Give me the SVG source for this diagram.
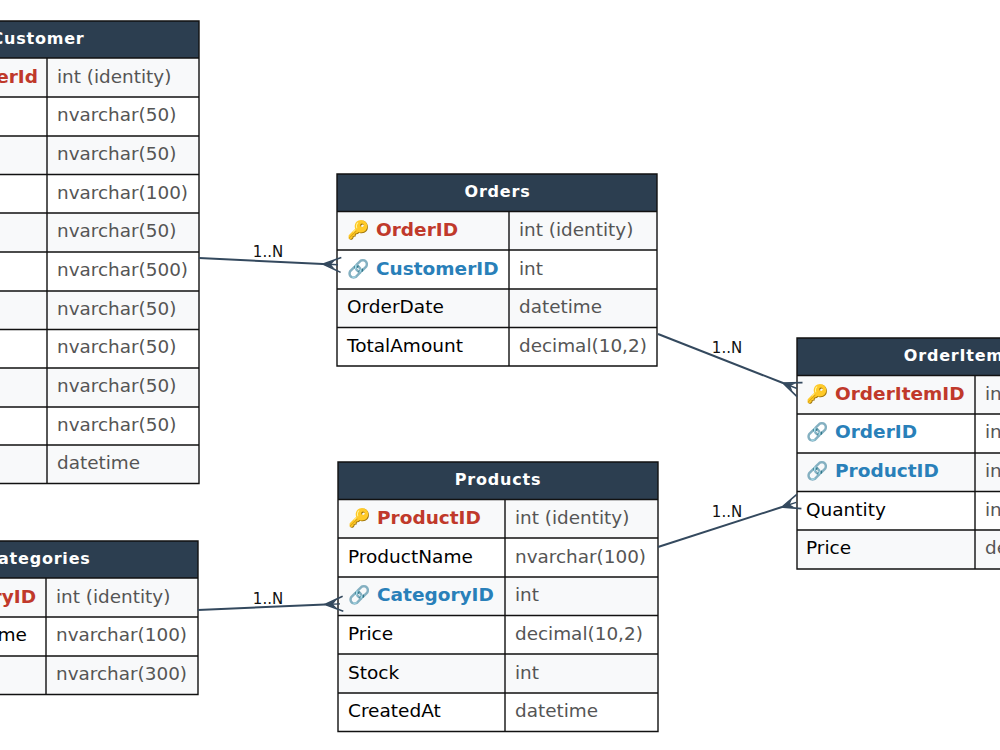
<svg xmlns="http://www.w3.org/2000/svg" width="1000" height="750" viewBox="0 0 1000 750">
<defs>
<marker id="crow" markerUnits="userSpaceOnUse" markerWidth="20" markerHeight="20" refX="0" refY="10" orient="auto" overflow="visible">
<path d="M18 2.500L0 10L18 17.500" fill="none" stroke="#34495e" stroke-width="1.600"/>
<path d="M0 10L12 5.500L8 10L12 14.500Z" fill="#34495e"/>
<path d="M0 10H15" stroke="#34495e" stroke-width="1.400"/>
</marker>
</defs>
<style>
text{font-family:"DejaVu Sans",sans-serif}
.h{fill:#2c3e50}
.t{fill:#fff;font-size:16px;font-weight:700;text-anchor:middle;letter-spacing:.8px}
.a{fill:#f8f9fa}
.b{fill:#fff}
.g{stroke:#111;stroke-width:1.4;fill:none}
.n{fill:#000;font-size:18.500px}
.k{fill:#c0392b;font-size:18.500px;font-weight:700}
.f{fill:#2980b9;font-size:18.500px;font-weight:700}
.y{fill:#555;font-size:18.400px}
.e{font-size:18px;font-family:"Noto Color Emoji","DejaVu Sans",sans-serif}
.l{fill:#111;font-size:15px;text-anchor:middle}
.c{stroke:#34495e;stroke-width:2;fill:none}
</style>
<rect width="1000" height="750" fill="#fff"/>
<g id="customer">
<rect class="h" x="-60" y="21" width="259" height="37.500"/>
<text class="t" x="38" y="44">Customer</text>
<rect class="a" x="-60" y="58" width="259" height="39"/><rect class="a" x="-60" y="136" width="259" height="38.500"/><rect class="a" x="-60" y="213" width="259" height="39"/><rect class="a" x="-60" y="291" width="259" height="38.500"/><rect class="a" x="-60" y="368" width="259" height="39"/><rect class="a" x="-60" y="445" width="259" height="38.500"/>
<path class="g" d="M-60 21H199V483.500H-60M-60 58H199M-60 97H199M-60 136H199M-60 174.500H199M-60 213H199M-60 252H199M-60 291H199M-60 329.500H199M-60 368H199M-60 407H199M-60 445H199M47 58V483.500"/>
<text class="k" x="38" y="83" text-anchor="end">CustomerId</text>
<text class="y" x="57" y="83">int (identity)</text><text class="y" x="57" y="121">nvarchar(50)</text><text class="y" x="57" y="160">nvarchar(50)</text><text class="y" x="57" y="199">nvarchar(100)</text><text class="y" x="57" y="237">nvarchar(50)</text><text class="y" x="57" y="276">nvarchar(500)</text><text class="y" x="57" y="315">nvarchar(50)</text><text class="y" x="57" y="353">nvarchar(50)</text><text class="y" x="57" y="392">nvarchar(50)</text><text class="y" x="57" y="431">nvarchar(50)</text><text class="y" x="57" y="469">datetime</text>
</g>
<g id="categories">
<rect class="h" x="-60" y="541" width="258" height="37.500"/>
<text class="t" x="38" y="564">Categories</text>
<rect class="a" x="-60" y="578" width="258" height="39"/><rect class="a" x="-60" y="656" width="258" height="38.500"/>
<path class="g" d="M-60 541H198V694.500H-60M-60 578H198M-60 617H198M-60 656H198M46 578V694.500"/>
<text class="k" x="36" y="603" text-anchor="end">CategoryID</text>
<text class="n" x="27" y="641" text-anchor="end">CategoryName</text>
<text class="y" x="56" y="603">int (identity)</text><text class="y" x="56" y="641">nvarchar(100)</text><text class="y" x="56" y="680">nvarchar(300)</text>
</g>
<g id="orders">
<rect class="h" x="337" y="174" width="320" height="37.500"/>
<text class="t" x="497.500" y="197">Orders</text>
<rect class="a" x="337" y="211" width="320" height="39"/><rect class="a" x="337" y="289" width="320" height="38.500"/>
<path class="g" d="M337 174H657V366H337ZM337 211.500H657M337 250H657M337 289H657M337 327.500H657M509 211.500V366"/>
<text class="e" x="347" y="236">🔑</text><text class="k" x="376" y="236">OrderID</text>
<text class="e" x="347" y="275">🔗</text><text class="f" x="376" y="275">CustomerID</text>
<text class="n" x="347" y="313">OrderDate</text><text class="n" x="347" y="352">TotalAmount</text>
<text class="y" x="519" y="236">int (identity)</text><text class="y" x="519" y="275">int</text><text class="y" x="519" y="313">datetime</text><text class="y" x="519" y="352">decimal(10,2)</text>
</g>
<g id="products">
<rect class="h" x="338" y="462" width="320" height="37.500"/>
<text class="t" x="498" y="485">Products</text>
<rect class="a" x="338" y="499" width="320" height="39"/><rect class="a" x="338" y="577" width="320" height="38.500"/><rect class="a" x="338" y="654" width="320" height="39"/>
<path class="g" d="M338 462H658V731.500H338ZM338 499.500H658M338 538H658M338 577H658M338 615.500H658M338 654H658M338 693H658M505 499.500V731.500"/>
<text class="e" x="348" y="524">🔑</text><text class="k" x="377" y="524">ProductID</text>
<text class="n" x="348" y="563">ProductName</text>
<text class="e" x="348" y="601">🔗</text><text class="f" x="377" y="601">CategoryID</text>
<text class="n" x="348" y="640">Price</text><text class="n" x="348" y="679">Stock</text><text class="n" x="348" y="717">CreatedAt</text>
<text class="y" x="515" y="524">int (identity)</text><text class="y" x="515" y="563">nvarchar(100)</text><text class="y" x="515" y="601">int</text><text class="y" x="515" y="640">decimal(10,2)</text><text class="y" x="515" y="679">int</text><text class="y" x="515" y="717">datetime</text>
</g>
<g id="orderitems">
<rect class="h" x="797" y="338" width="325" height="37.500"/>
<text class="t" x="959" y="361">OrderItems</text>
<rect class="a" x="797" y="375" width="325" height="39"/><rect class="a" x="797" y="453" width="325" height="38.500"/><rect class="a" x="797" y="530" width="325" height="39"/>
<path class="g" d="M1122 338H797V569H1122M797 375.500H1122M797 414H1122M797 453H1122M797 491.500H1122M797 530H1122M975 375.500V569"/>
<text class="e" x="806" y="400">🔑</text><text class="k" x="835" y="400">OrderItemID</text>
<text class="e" x="806" y="438">🔗</text><text class="f" x="835" y="438">OrderID</text>
<text class="e" x="806" y="477">🔗</text><text class="f" x="835" y="477">ProductID</text>
<text class="n" x="806" y="516">Quantity</text><text class="n" x="806" y="554">Price</text>
<text class="y" x="985" y="400">int</text><text class="y" x="985" y="438">int</text><text class="y" x="985" y="477">int</text><text class="y" x="985" y="516">int</text><text class="y" x="985" y="554">decimal(10,2)</text>
</g>
<g id="connectors">
<path class="c" d="M199 258L323 264" marker-end="url(#crow)"/>
<path class="c" d="M198 610L325 604.500" marker-end="url(#crow)"/>
<path class="c" d="M658 334L783 383" marker-end="url(#crow)"/>
<path class="c" d="M658 547L782 507" marker-end="url(#crow)"/>
<text class="l" x="268" y="257">1..N</text><text class="l" x="268" y="604">1..N</text><text class="l" x="727" y="353">1..N</text><text class="l" x="727" y="517">1..N</text>
</g>
</svg>
